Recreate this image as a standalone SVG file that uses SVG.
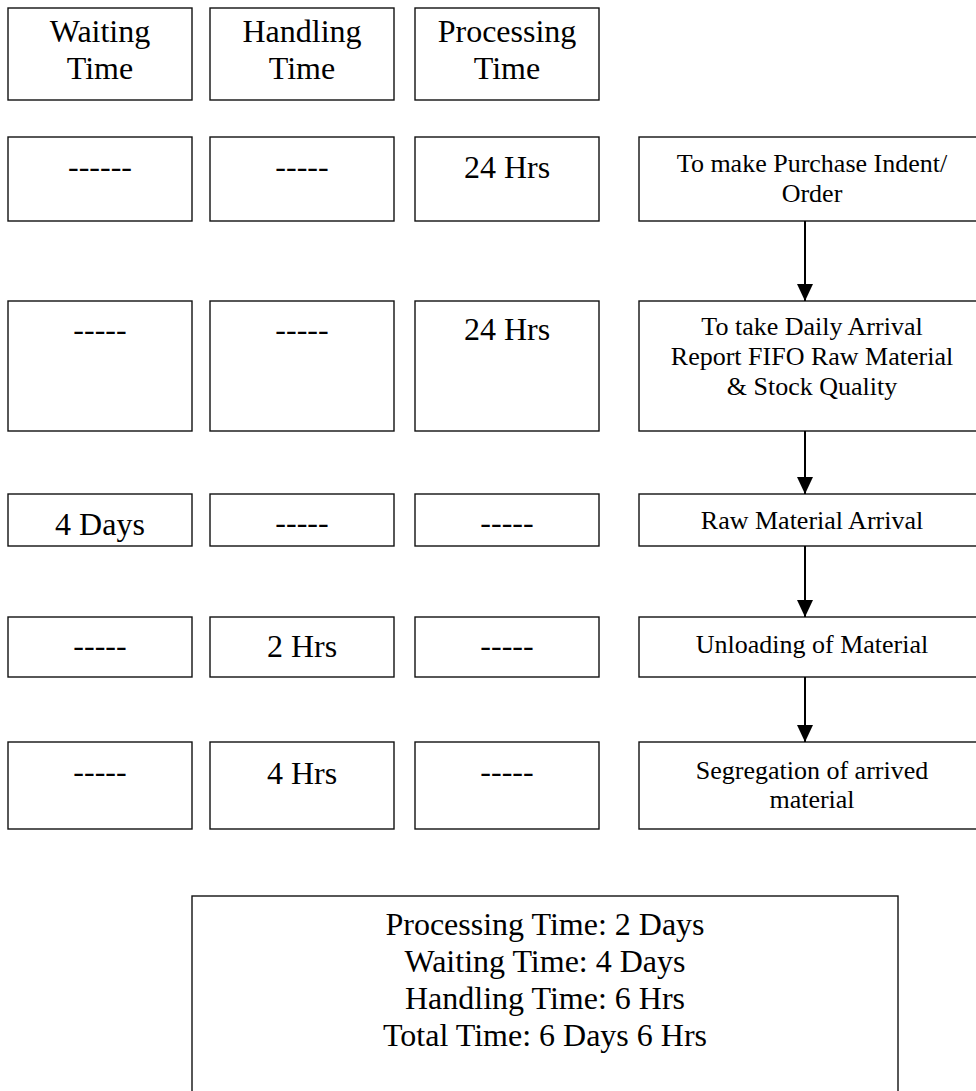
<svg xmlns="http://www.w3.org/2000/svg" width="976" height="1091" viewBox="0 0 976 1091">
<style>
rect{fill:#fff;stroke:#111;stroke-width:1.4}
text{font-family:"Liberation Serif","Times New Roman",serif;fill:#000;text-anchor:middle}
.big{font-size:32px}
.sm{font-size:26px}
.con line{stroke:#000;stroke-width:2}
</style>
<defs>
<marker id="ah" markerWidth="17" markerHeight="16" refX="17" refY="8" orient="auto" markerUnits="userSpaceOnUse" viewBox="0 0 17 16">
<path d="M0,0 L17,8 L0,16 Z" fill="#000"/>
</marker>
</defs>
<rect width="976" height="1091" style="stroke:none"/>
<g id="hdr-waiting"><rect x="8" y="8" width="184" height="92"/><text class="big" x="100" y="42">Waiting</text><text class="big" x="100" y="79">Time</text></g>
<g id="hdr-handling"><rect x="210" y="8" width="184" height="92"/><text class="big" x="302" y="42">Handling</text><text class="big" x="302" y="79">Time</text></g>
<g id="hdr-processing"><rect x="415" y="8" width="184" height="92"/><text class="big" x="507" y="42">Processing</text><text class="big" x="507" y="79">Time</text></g>

<g id="r1-w"><rect x="8" y="137" width="184" height="84"/><text class="big" x="100" y="177">------</text></g>
<g id="r1-h"><rect x="210" y="137" width="184" height="84"/><text class="big" x="302" y="177">-----</text></g>
<g id="r1-p"><rect x="415" y="137" width="184" height="84"/><text class="big" x="507" y="178">24 Hrs</text></g>
<g id="r1-step"><rect x="639" y="137" width="360" height="84"/><text class="sm" x="812" y="172">To make Purchase Indent/</text><text class="sm" x="812" y="202">Order</text></g>

<g id="r2-w"><rect x="8" y="301" width="184" height="130"/><text class="big" x="100" y="340">-----</text></g>
<g id="r2-h"><rect x="210" y="301" width="184" height="130"/><text class="big" x="302" y="340">-----</text></g>
<g id="r2-p"><rect x="415" y="301" width="184" height="130"/><text class="big" x="507" y="340">24 Hrs</text></g>
<g id="r2-step"><rect x="639" y="301" width="360" height="130"/><text class="sm" x="812" y="335">To take Daily Arrival</text><text class="sm" x="812" y="365">Report FIFO Raw Material</text><text class="sm" x="812" y="395">&amp; Stock Quality</text></g>

<g id="r3-w"><rect x="8" y="494" width="184" height="52"/><text class="big" x="100" y="535">4 Days</text></g>
<g id="r3-h"><rect x="210" y="494" width="184" height="52"/><text class="big" x="302" y="533">-----</text></g>
<g id="r3-p"><rect x="415" y="494" width="184" height="52"/><text class="big" x="507" y="533">-----</text></g>
<g id="r3-step"><rect x="639" y="494" width="360" height="52"/><text class="sm" x="812" y="529">Raw Material Arrival</text></g>

<g id="r4-w"><rect x="8" y="617" width="184" height="60"/><text class="big" x="100" y="656">-----</text></g>
<g id="r4-h"><rect x="210" y="617" width="184" height="60"/><text class="big" x="302" y="657">2 Hrs</text></g>
<g id="r4-p"><rect x="415" y="617" width="184" height="60"/><text class="big" x="507" y="656">-----</text></g>
<g id="r4-step"><rect x="639" y="617" width="360" height="60"/><text class="sm" x="812" y="653">Unloading of Material</text></g>

<g id="r5-w"><rect x="8" y="742" width="184" height="87"/><text class="big" x="100" y="782">-----</text></g>
<g id="r5-h"><rect x="210" y="742" width="184" height="87"/><text class="big" x="302" y="784">4 Hrs</text></g>
<g id="r5-p"><rect x="415" y="742" width="184" height="87"/><text class="big" x="507" y="782">-----</text></g>
<g id="r5-step"><rect x="639" y="742" width="360" height="87"/><text class="sm" x="812" y="779">Segregation of arrived</text><text class="sm" x="812" y="808">material</text></g>

<g id="summary"><rect x="192" y="896" width="706" height="220"/>
<text class="big" x="545" y="935">Processing Time: 2 Days</text>
<text class="big" x="545" y="972">Waiting Time: 4 Days</text>
<text class="big" x="545" y="1009">Handling Time: 6 Hrs</text>
<text class="big" x="545" y="1046">Total Time: 6 Days 6 Hrs</text></g>

<g id="connectors" class="con">
<line x1="805" y1="221" x2="805" y2="301" marker-end="url(#ah)"/>
<line x1="805" y1="431" x2="805" y2="494" marker-end="url(#ah)"/>
<line x1="805" y1="546" x2="805" y2="617" marker-end="url(#ah)"/>
<line x1="805" y1="677" x2="805" y2="742" marker-end="url(#ah)"/>
</g>
</svg>
